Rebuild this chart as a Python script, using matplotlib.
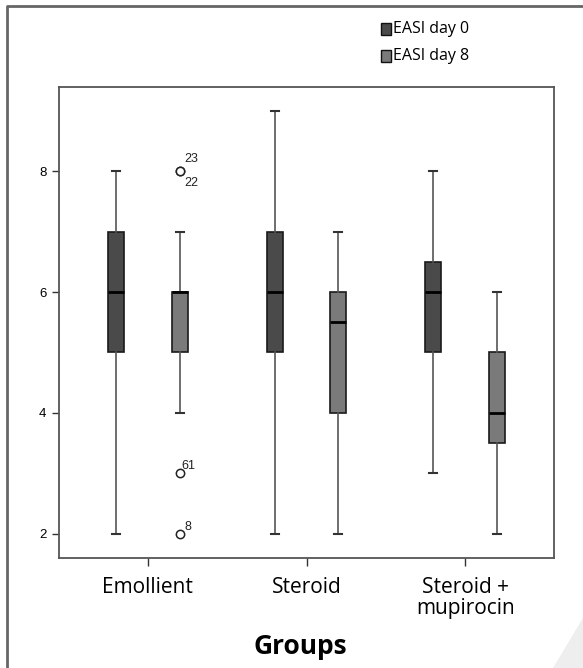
import matplotlib
matplotlib.use('Agg')
import matplotlib.pyplot as plt
from matplotlib.patches import Rectangle, Polygon
from matplotlib.lines import Line2D

# Data
groups = ['Emollient', 'Steroid', 'Steroid +\nmupirocin']
series = ['EASI day 0', 'EASI day 8']

# whisker low, q1, median, q3, whisker high
day0_low = [2, 2, 3]
day0_q1 = [5, 5, 5]
day0_med = [6, 6, 6]
day0_q3 = [7, 7, 6.5]
day0_high = [8, 9, 8]

day8_low = [4, 2, 2]
day8_q1 = [5, 4, 3.5]
day8_med = [6, 5.5, 4]
day8_q3 = [6, 6, 5]
day8_high = [7, 7, 6]

# outliers of Emollient day 8
outlier_vals = [8, 8, 3, 2]
outlier_ids = ['23', '22', '61', '8']

W, H = 583, 668
fig = plt.figure(figsize=(W / 100, H / 100), dpi=100)

def px(x, y):
    return x / W, 1 - y / H

ax = fig.add_axes([59 / W, 1 - 557.5 / H, (554 - 59) / W, (557.5 - 87) / H])

colors = ['#4a4a4a', '#7a7a7a']
offset = 0.2

def make_stats(lo, q1, med, q3, hi):
    out = []
    for i in range(len(lo)):
        out.append(dict(whislo=lo[i], q1=q1[i], med=med[i], q3=q3[i], whishi=hi[i], fliers=[]))
    return out

stats0 = make_stats(day0_low, day0_q1, day0_med, day0_q3, day0_high)
stats8 = make_stats(day8_low, day8_q1, day8_med, day8_q3, day8_high)

for k, (st, col) in enumerate(zip([stats0, stats8], colors)):
    pos = [i + (k * 2 - 1) * offset for i in range(len(groups))]
    ax.bxp(st, positions=pos, widths=0.1, patch_artist=True, showfliers=False,
           capwidths=0.05,
           boxprops=dict(facecolor=col, edgecolor='#1a1a1a', linewidth=1.2),
           medianprops=dict(color='black', linewidth=2),
           whiskerprops=dict(color='#555555', linewidth=1.2),
           capprops=dict(color='#333333', linewidth=1.5))

# outliers on Emollient day 8
ox = 0 + offset
ax.plot([ox] * len(outlier_vals), outlier_vals, 'o', mfc='white', mec='#222222',
        ms=6, mew=1.1, zorder=5)
label_off = [(0.03, 0.2), (0.03, -0.2), (0.01, 0.12), (0.03, 0.12)]
for v, lab, (dx, dy) in zip(outlier_vals, outlier_ids, label_off):
    ax.text(ox + dx, v + dy, lab, fontsize=9, family='Liberation Sans',
            va='center', ha='left', color='#222222')

ax.set_xlim(-0.56, 2.56)
ax.set_ylim(1.61, 9.39)
ax.set_yticks([2, 4, 6, 8])
ax.set_yticklabels(['2', '4', '6', '8'], family='Liberation Sans', fontsize=9.5)
ax.set_xticks(range(len(groups)))
ax.set_xticklabels(groups, family='Open Sans', fontsize=15, linespacing=1.0)
ax.tick_params(axis='y', direction='out', length=5, width=1, color='#333333', pad=4)
ax.tick_params(axis='x', direction='out', length=6, width=1, color='#333333', pad=8)
for s in ax.spines.values():
    s.set_color('#555555')
    s.set_linewidth(1.3)

# x axis title
fig.text(*px(300, 647), 'Groups', family='Open Sans', fontweight='bold',
         fontsize=19, ha='center', va='center')

# legend drawn in figure space
for i, (lab, col) in enumerate(zip(series, colors)):
    y = 29 + i * 27
    x0, y0 = px(381, y + 6)
    fig.patches.append(Rectangle((x0, y0), 10 / W, 12 / H, transform=fig.transFigure,
                                 facecolor=col, edgecolor='#111111', linewidth=1))
    fig.text(*px(393, y), lab, family='Open Sans', fontsize=11.5, ha='left', va='center')

# outer page frame and corner fold
fig.lines.append(Line2D([7 / W, 7 / W, 1], [0, 1 - 6 / H, 1 - 6 / H], transform=fig.transFigure,
                        color='#666666', linewidth=2))
fig.patches.append(Polygon([px(553, 668), px(583, 668), px(583, 618)], closed=True,
                           transform=fig.transFigure, facecolor='#eeeeee', edgecolor='none'))

fig.savefig('out.png', dpi=100)
